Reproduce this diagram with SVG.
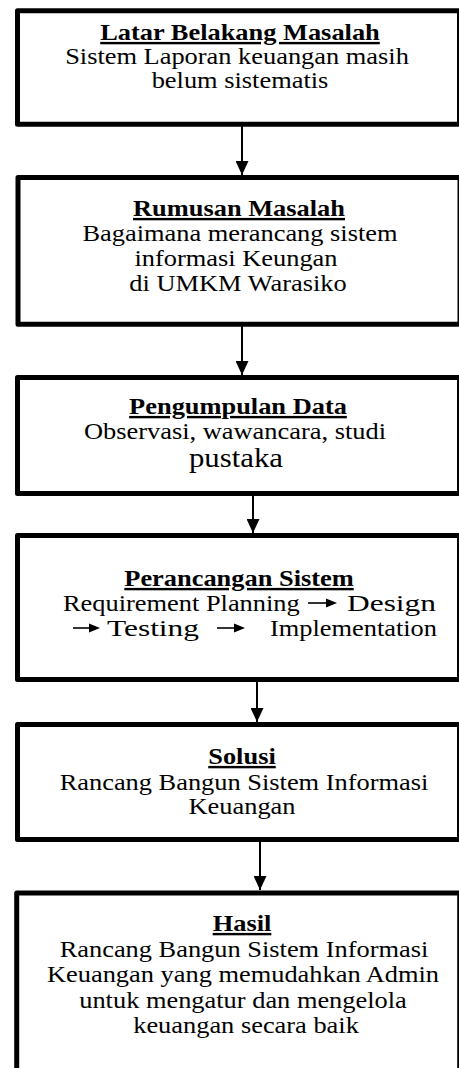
<svg xmlns="http://www.w3.org/2000/svg" width="459" height="1068" viewBox="0 0 459 1068">
<style>
.box{fill:#fff;stroke:#000;stroke-width:5;stroke-linejoin:round}
.t{font-family:"Liberation Serif","Times New Roman",serif;font-size:24px;fill:#000;text-anchor:middle}
.s{text-anchor:start}
.e{text-anchor:end}
.h{font-weight:bold;text-decoration:underline}
.p{font-size:28px}
.c{stroke:#000;stroke-width:2;fill:none}
.ah{fill:#000}
.ia{stroke:#000;stroke-width:1.6}
</style>
<defs>
<marker id="arr" markerWidth="14" markerHeight="13" refX="14" refY="6.5" orient="auto" markerUnits="userSpaceOnUse">
<path d="M0,0 L14,6.5 L0,13 Z" fill="#000"/>
</marker>
</defs>
<rect width="459" height="1068" fill="#fff"/>
<g id="connectors">
<line class="c" x1="242" y1="126" x2="242" y2="175" marker-end="url(#arr)"/>
<line class="c" x1="242" y1="326" x2="242" y2="375" marker-end="url(#arr)"/>
<line class="c" x1="253" y1="496" x2="253" y2="533" marker-end="url(#arr)"/>
<line class="c" x1="257" y1="682" x2="257" y2="722" marker-end="url(#arr)"/>
<line class="c" x1="260" y1="842" x2="260" y2="890" marker-end="url(#arr)"/>
</g>
<g id="n1">
<rect class="box" x="17.5" y="10.8" width="442" height="113.4"/>
<text class="t h" transform="translate(240 40) scale(1.1 1)">Latar Belakang Masalah</text>
<text class="t" transform="translate(237 64) scale(1.1 1)">Sistem Laporan keuangan masih</text>
<text class="t" transform="translate(240 88) scale(1.1 1)">belum sistematis</text>
</g>
<g id="n2">
<rect class="box" x="18" y="177.5" width="442" height="146.7"/>
<text class="t h" transform="translate(239 216) scale(1.1 1)">Rumusan Masalah</text>
<text class="t" transform="translate(240 241) scale(1.1 1)">Bagaimana merancang sistem</text>
<text class="t" transform="translate(236 266) scale(1.1 1)">informasi Keungan</text>
<text class="t" transform="translate(238 291) scale(1.1 1)">di UMKM Warasiko</text>
</g>
<g id="n3">
<rect class="box" x="17.5" y="377.5" width="442" height="116"/>
<text class="t h" transform="translate(238 414) scale(1.1 1)">Pengumpulan Data</text>
<text class="t" transform="translate(235 439) scale(1.1 1)">Observasi, wawancara, studi</text>
<text class="t p" transform="translate(236 467) scale(1.1 1)">pustaka</text>
</g>
<g id="n4">
<rect class="box" x="17.5" y="535.5" width="442" height="144"/>
<text class="t h" transform="translate(239 586) scale(1.1 1)">Perancangan Sistem</text>
<text class="t s" transform="translate(63 611) scale(1.1 1)">Requirement Planning</text>
<line class="ia" x1="308" y1="603" x2="328" y2="603"/>
<path class="ah" d="M326,598.5 L337,603 L326,607.5 Z"/>
<text class="t s" x="347" y="611" textLength="89" lengthAdjust="spacingAndGlyphs">Design</text>
<line class="ia" x1="73" y1="628" x2="91" y2="628"/>
<path class="ah" d="M89,623.5 L100,628 L89,632.5 Z"/>
<text class="t s" x="107" y="636" textLength="92" lengthAdjust="spacingAndGlyphs">Testing</text>
<line class="ia" x1="217" y1="628" x2="236" y2="628"/>
<path class="ah" d="M234,623.5 L245,628 L234,632.5 Z"/>
<text class="t e" transform="translate(437 636) scale(1.1 1)">Implementation</text>
</g>
<g id="n5">
<rect class="box" x="17.5" y="724.5" width="442" height="115"/>
<text class="t h" transform="translate(242 764) scale(1.1 1)">Solusi</text>
<text class="t" transform="translate(244 790) scale(1.1 1)">Rancang Bangun Sistem Informasi</text>
<text class="t" transform="translate(242 814) scale(1.1 1)">Keuangan</text>
</g>
<g id="n6">
<rect class="box" x="16.7" y="893" width="443" height="200"/>
<text class="t h" transform="translate(242 931) scale(1.1 1)">Hasil</text>
<text class="t" transform="translate(244 957) scale(1.1 1)">Rancang Bangun Sistem Informasi</text>
<text class="t" transform="translate(243 982) scale(1.1 1)">Keuangan yang memudahkan Admin</text>
<text class="t" transform="translate(243 1008) scale(1.1 1)">untuk mengatur dan mengelola</text>
<text class="t" transform="translate(246 1033) scale(1.1 1)">keuangan secara baik</text>
</g>
</svg>
